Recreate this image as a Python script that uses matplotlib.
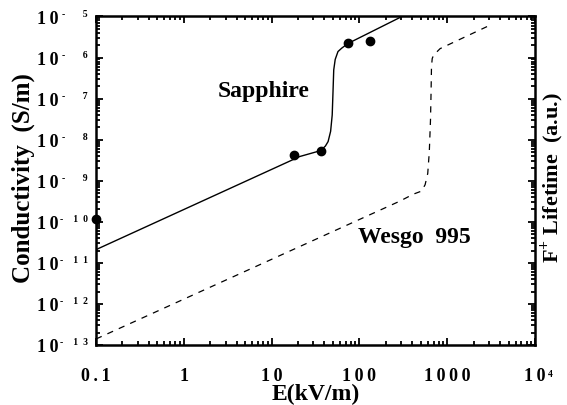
import numpy as np
import matplotlib
matplotlib.use("Agg")
import matplotlib.pyplot as plt
from matplotlib.ticker import LogLocator, NullFormatter, FixedLocator, FixedFormatter

plt.rcParams['font.family'] = ['Liberation Serif', 'DejaVu Serif']
plt.rcParams['font.weight'] = 'bold'

# sapphire conductivity curve (E in kV/m, sigma in S/m)
sapph_E = [0.1, 21, 36, 41, 44, 47, 49, 50, 51, 53, 57, 63, 74, 305]
sapph_sig = [2.1e-11, 3.9e-9, 5.4e-9, 7e-9, 9e-9, 1.6e-8, 4e-8, 1.4e-7,
             5e-7, 9e-7, 1.4e-6, 1.7e-6, 2.2e-6, 1e-5]

# measured sapphire points
dots_E = [0.1, 18, 36.6, 74, 132]
dots_sig = [1.17e-10, 4.3e-9, 5.2e-9, 2.26e-6, 2.5e-6]

# Wesgo 995 F+ lifetime curve
wes_E = [0.1, 290, 410, 510, 560, 600, 625, 645, 655, 662, 675, 700, 830, 3100]
wes_sig = [1.4e-13, 3.2e-10, 4.7e-10, 5.6e-10, 8e-10, 1.5e-9, 5e-9, 3e-8,
           1.5e-7, 6e-7, 9.5e-7, 1.15e-6, 1.65e-6, 6.2e-6]

T = "\u2009"  # thin space, the original labels are letter-spaced
xtick_vals = [0.1, 1, 10, 100, 1000, 1e4]
xtick_labels = ["0" + T + "." + T + "1", "1", "1" + T + "0", T.join("100"), T.join("1000"), "1" + T + "0"]
ytick_vals = [1e-13, 1e-12, 1e-11, 1e-10, 1e-9, 1e-8, 1e-7, 1e-6, 1e-5]
ytick_labels = ["1" + T + "0"] * len(ytick_vals)
ytick_exps = ["-    1  3", "-    1  2", "-    1  1", "-    1  0",
              "-       9", "-       8", "-       7", "-       6", "-       5"]

fig = plt.figure(figsize=(5.67, 4.06), dpi=100)
ax = fig.add_axes([0.1693, 0.1478, 0.7743, 0.8091])

ax.plot(sapph_E, sapph_sig, color='black', lw=1.0)
ax.plot(wes_E, wes_sig, color='black', lw=0.9, linestyle=(0, (5, 5)))
ax.plot(dots_E, dots_sig, 'o', color='black', ms=6, clip_on=False, zorder=5)

ax.set_xscale('log')
ax.set_yscale('log')
ax.set_xlim(0.1, 1e4)
ax.set_ylim(1e-13, 1e-5)

ax.xaxis.set_major_locator(FixedLocator(xtick_vals))
ax.xaxis.set_major_formatter(FixedFormatter(xtick_labels))
ax.yaxis.set_major_locator(FixedLocator(ytick_vals))
ax.yaxis.set_major_formatter(FixedFormatter(ytick_labels))
for a in (ax.xaxis, ax.yaxis):
    a.set_minor_locator(LogLocator(base=10, subs=np.arange(2, 10)))
    a.set_minor_formatter(NullFormatter())

ax.tick_params(which='both', direction='in', top=True, right=True, width=1.3, labelsize=13)
ax.tick_params(which='major', length=5)
ax.tick_params(which='minor', length=3)
ax.tick_params(axis='x', pad=16)
ax.tick_params(axis='y', pad=27)
for s in ax.spines.values():
    s.set_linewidth(1.8)

# small exponents next to the "1 0" tick labels
for v, e in zip(ytick_vals, ytick_exps):
    ax.annotate(e, xy=(0, v), xycoords=('axes fraction', 'data'), xytext=(-6, 2.5),
                textcoords='offset points', ha='right', va='center', fontsize=7,
                fontweight='bold', annotation_clip=False)
ax.annotate("4", xy=(1e4, 0), xycoords=('data', 'axes fraction'), xytext=(9, -17),
            textcoords='offset points', ha='left', va='top', fontsize=7,
            fontweight='bold', annotation_clip=False)

ax.set_xlabel("E(kV/m)", fontsize=17, fontweight='bold', labelpad=-1)
fig.text(23 / 567, 1 - 178 / 406, "Conductivity  (S/m)", rotation=90, ha='center', va='center',
         fontsize=18, fontweight='bold')
fig.text(553 / 567, 1 - 178 / 406, r"F$^{\mathregular{+}}$ Lifetime  (a.u.)", rotation=90,
         ha='center', va='center', fontsize=16, fontweight='bold')

ax.text(2.45, 1.55e-7, "Sapphire", fontsize=17, fontweight='bold', va='center')
ax.text(96, 4.5e-11, "Wesgo  995", fontsize=17, fontweight='bold', va='center')

fig.savefig("out.png", dpi=100)
